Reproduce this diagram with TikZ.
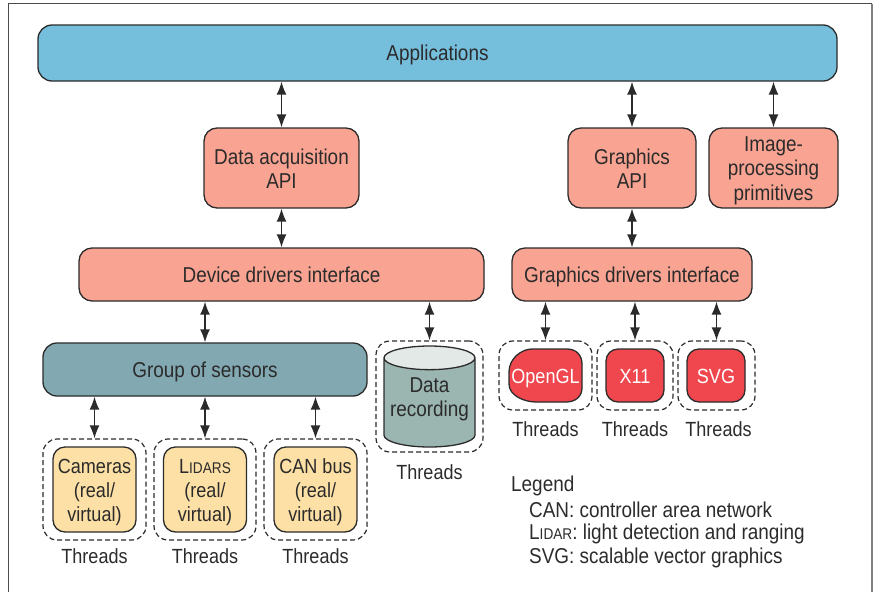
\documentclass[tikz,border=0pt]{standalone}
\usepackage{xcolor}
\usepackage{fontspec}
\setmainfont[FakeStretch=0.88]{Liberation Sans}
\usetikzlibrary{arrows.meta,shapes.geometric}
\definecolor{appblue}{HTML}{75BEDC}
\definecolor{apipink}{HTML}{F9A392}
\definecolor{groupteal}{HTML}{82A8B2}
\definecolor{sensoryellow}{HTML}{FDE0A5}
\definecolor{drvred}{HTML}{F0474F}
\definecolor{cylbody}{HTML}{9BB5B0}
\definecolor{cyltop}{HTML}{E2E9E7}
\definecolor{inkdark}{HTML}{2B2B2B}
\newcommand{\lidarname}[1]{L{\fontsize{15.5}{24}\selectfont #1}}
\tikzset{
  oneline/.style={text height=15pt,text depth=0pt},
  twolines/.style={text height=41pt,text depth=0pt},
  threelines/.style={text height=64.5pt,text depth=0pt},
  smalltext/.style={font=\fontsize{20.5}{24.3}\selectfont},
  box/.style={rectangle,rounded corners=13pt,draw=inkdark,line width=1.3pt,inner sep=0pt,align=center,text=inkdark,oneline},
  api/.style={box,fill=apipink},
  sensor/.style={box,threelines,smalltext,fill=sensoryellow,minimum width=83pt,minimum height=85pt,rounded corners=12pt},
  drv/.style={box,fill=drvred,text=white,minimum height=53pt,rounded corners=12pt},
  thr/.style={rectangle,rounded corners=14pt,draw=inkdark,line width=1.2pt,dash pattern=on 5pt off 3pt,inner sep=0pt},
  lbl/.style={inner sep=0pt,text=inkdark,align=left},
  thrlbl/.style={lbl,smalltext},
  biarrow/.style={{Latex[width=10pt,length=13pt]}-{Latex[width=10pt,length=13pt]},line width=1.4pt,draw=inkdark}
}
\begin{document}
\begin{tikzpicture}[x=1pt,y=-1pt,font=\fontsize{21.5}{24.3}\selectfont]
\useasboundingbox (0,0) rectangle (875,592);
\draw[line width=1.3pt,draw=inkdark!85] (8.5,592) -- (8.5,3.5) -- (872,3.5);
\draw[line width=1.5pt,draw=gray] (872,3.5) -- (872,592);

\node (Apps)[box,fill=appblue,minimum width=799pt,minimum height=56pt,rounded corners=14pt] at (437.5,53) {Applications};

\node (Dacq)[api,twolines,minimum width=155pt,minimum height=80pt] at (281.5,168) {Data acquisition\\API};
\node (Gapi)[api,twolines,minimum width=128pt,minimum height=80pt] at (632,168) {Graphics\\API};
\node (Prim)[api,threelines,minimum width=129pt,minimum height=80pt] at (773.5,168) {Image-\\processing\\primitives};

\node (Ddrv)[api,minimum width=405pt,minimum height=53pt] at (281.5,274.5) {Device drivers interface};
\node (Gdrv)[api,minimum width=240pt,minimum height=53pt] at (632,274.5) {Graphics drivers interface};

\node (Grp)[box,fill=groupteal,minimum width=324pt,minimum height=53pt,rounded corners=14pt] at (205,369.5) {Group of sensors};

% threads under the group
\node (T1)[thr,minimum width=103pt,minimum height=101pt] at (94.5,489.5) {};
\node (T2)[thr,minimum width=102pt,minimum height=101pt] at (205,489.5) {};
\node (T3)[thr,minimum width=103pt,minimum height=101pt] at (315.5,489.5) {};
\node (Cam)[sensor] at (94.5,489.5) {Cameras\\(real/\\virtual)};
\node (Lid)[sensor] at (205,489.5) {\lidarname{IDARS}\\(real/\\virtual)};
\node (Can)[sensor] at (315.5,489.5) {CAN bus\\(real/\\virtual)};
\node (L1)[thrlbl] at (94.5,556) {Threads};
\node (L2)[thrlbl] at (205,556) {Threads};
\node (L3)[thrlbl] at (315.5,556) {Threads};

% recording
\node (T4)[thr,minimum width=107pt,minimum height=111pt] at (429.5,396.5) {};
\node (Rec)[cylinder,shape border rotate=90,aspect=0.3,draw=inkdark,line width=1.3pt,cylinder uses custom fill,cylinder body fill=cylbody,cylinder end fill=cyltop,minimum width=91pt,minimum height=101pt,inner sep=0pt,align=center,text=inkdark,text height=27.5pt,text depth=0pt,anchor=shape center] at (429.5,396.5) {Data\\recording};
\node (L4)[thrlbl] at (429.5,472) {Threads};

% graphics back ends
\node (T5)[thr,minimum width=93pt,minimum height=69pt] at (545.5,375.5) {};
\node (T6)[thr,minimum width=76pt,minimum height=69pt] at (635,375.5) {};
\node (T7)[thr,minimum width=77pt,minimum height=69pt] at (716.5,375.5) {};
\draw[line width=1.3pt,draw=inkdark,fill=drvred] (509,372) .. controls (509,358) and (522,349) .. (532,349) -- (567,349) .. controls (576,349) and (582,355) .. (582,364) -- (582,388) .. controls (582,396) and (576,402) .. (566,402) -- (536,402) .. controls (525,402) and (509,396) .. (509,384) -- cycle;
\node (Ogl)[inner sep=0pt,text=white,oneline,smalltext] at (545.5,375.5) {OpenGL};
\node (X11)[drv,smalltext,minimum width=58pt] at (635,375.5) {X11};
\node (Svg)[drv,smalltext,minimum width=58pt] at (716,375.5) {SVG};
\node (L5)[thrlbl] at (545.5,429.5) {Threads};
\node (L6)[thrlbl] at (635,429.5) {Threads};
\node (L7)[thrlbl] at (718.5,429.5) {Threads};

\draw[biarrow] (Dacq.north |- Apps.south) -- (Dacq.north);
\draw[biarrow] (Gapi.north |- Apps.south) -- (Gapi.north);
\draw[biarrow] (Prim.north |- Apps.south) -- (Prim.north);
\draw[biarrow] (Dacq.south) -- (Dacq.south |- Ddrv.north);
\draw[biarrow] (Gapi.south) -- (Gapi.south |- Gdrv.north);
\draw[biarrow] (Grp.north |- Ddrv.south) -- (Grp.north);
\draw[biarrow] (T4.north |- Ddrv.south) -- (T4.north);
\draw[biarrow] (T5.north |- Gdrv.south) -- (T5.north);
\draw[biarrow] (T6.north |- Gdrv.south) -- (T6.north);
\draw[biarrow] (T7.north |- Gdrv.south) -- (T7.north);
\draw[biarrow] (T1.north |- Grp.south) -- (T1.north);
\draw[biarrow] (T2.north |- Grp.south) -- (T2.north);
\draw[biarrow] (T3.north |- Grp.south) -- (T3.north);

\node (Lg0)[lbl,anchor=west] at (511,485.5) {Legend};
\node (Lg1)[lbl,anchor=west] at (529,510) {CAN: controller area network};
\node (Lg2)[lbl,anchor=west] at (529,534) {\lidarname{IDAR}: light detection and ranging};
\node (Lg3)[lbl,anchor=west] at (529,558) {SVG: scalable vector graphics};
\end{tikzpicture}
\end{document}
